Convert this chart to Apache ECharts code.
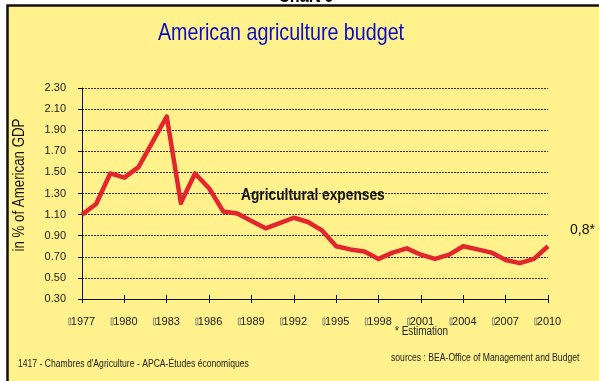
<!DOCTYPE html>
<html>
<head>
<meta charset="utf-8">
<script src="https://cdn.jsdelivr.net/npm/echarts@6/dist/echarts.min.js"></script>
<style>
  html, body { margin: 0; padding: 0; background: #ffffff; }
  #chart { width: 599px; height: 381px; }
</style>
</head>
<body>
<div id="chart"></div>
<script>
// Federal farm spending as a share of US GDP, 1977-2010 (2010 estimated)
const years = [
  '1977','1978','1979','1980','1981','1982','1983','1984','1985','1986',
  '1987','1988','1989','1990','1991','1992','1993','1994','1995','1996',
  '1997','1998','1999','2000','2001','2002','2003','2004','2005','2006',
  '2007','2008','2009','2010'
];
const expenses = [
  1.10, 1.20, 1.49, 1.45, 1.55, 1.79, 2.03, 1.21, 1.49, 1.35,
  1.13, 1.11, 1.04, 0.97, 1.02, 1.07, 1.03, 0.95, 0.80, 0.77,
  0.75, 0.68, 0.74, 0.78, 0.72, 0.68, 0.72, 0.80, 0.77, 0.74,
  0.67, 0.64, 0.68, 0.80
];
const yTicks = { min: 0.3, max: 2.3, step: 0.2 };
const lastLabel = '0,8*';

const sans = '"Liberation Sans", Arial, sans-serif';
// condensed look: Liberation Sans squeezed horizontally
const NARROW = 0.82;

function txt(x, y, text, font, fill, align, scale) {
  return {
    type: 'text', x: x, y: y, scaleX: scale || NARROW,
    style: { text: text, font: font, fill: fill, align: align || 'left', verticalAlign: 'middle' }
  };
}

const chart = echarts.init(document.getElementById('chart'), null, { renderer: 'canvas' });

chart.setOption({
  backgroundColor: '#ffffff',
  animation: false,
  graphic: [
    // framed yellow panel
    { type: 'rect', z: -10, shape: { x: 7.5, y: 5.5, width: 620, height: 400 },
      style: { fill: '#fff28c', stroke: '#111', lineWidth: 2.5 } },
    // page heading sitting just above the frame
    { type: 'text', x: 306, y: 6.5, scaleX: 0.85, z: -20,
      style: { text: 'Chart 9', font: 'bold 19px ' + sans, fill: '#000',
               align: 'center', verticalAlign: 'bottom' } },
    txt(281, 33, 'American agriculture budget', '24px ' + sans, '#0b0bc8', 'center'),
    { type: 'text', x: 20, y: 185, rotation: Math.PI / 2, scaleX: 0.83,
      style: { text: 'in % of American GDP', font: '16px ' + sans,
               fill: '#111', align: 'center', verticalAlign: 'middle' } },
    txt(241, 196, 'Agricultural expenses', 'bold 16px ' + sans, '#111', 'left', 0.86),
    txt(395, 332, '* Estimation', '12px ' + sans, '#222', 'left', 0.83),
    txt(18, 364, "1417 - Chambres d'Agriculture - APCA-Études économiques", '10.5px ' + sans,
        '#222', 'left'),
    txt(391, 358, 'sources : BEA-Office of Management and Budget', '10.5px ' + sans,
        '#222', 'left')
  ],
  grid: { left: 82, right: 51, top: 88, bottom: 82, containLabel: false },
  xAxis: [
    {
      type: 'category', data: years, boundaryGap: false, position: 'bottom',
      axisLine: { lineStyle: { color: '#111', width: 1 } },
      axisTick: { show: true, interval: 2, length: 4, lineStyle: { color: '#111' } },
      axisLabel: {
        interval: 2, margin: 17, color: '#222',
        fontFamily: sans, fontSize: 11,
        formatter: v => '{b|\u00a0}' + v,
        rich: {
          b: { width: 2, height: 7, borderColor: '#777', borderWidth: 0.8, padding: 0, fontSize: 6 }
        }
      },
      splitLine: { show: false }
    },
    {
      type: 'category', data: years, boundaryGap: false, position: 'bottom',
      axisLine: { show: false },
      axisTick: { show: true, inside: true, interval: 2, length: 4, lineStyle: { color: '#111' } },
      axisLabel: { show: false },
      splitLine: { show: false }
    }
  ],
  yAxis: {
    type: 'value', min: yTicks.min, max: yTicks.max, interval: yTicks.step,
    axisLine: { show: true, lineStyle: { color: '#111', width: 1 } },
    axisTick: { show: true, length: 4, lineStyle: { color: '#111' } },
    axisLabel: { margin: 16, color: '#222', fontFamily: sans, fontSize: 11,
                 formatter: v => v.toFixed(2) },
    splitLine: { show: true, lineStyle: { color: '#333', width: 1, type: [2, 1] } }
  },
  series: [{
    type: 'line', data: expenses, xAxisIndex: 0,
    symbol: 'none', smooth: false,
    lineStyle: { color: '#e3262e', width: 4.5, join: 'round' },
    endLabel: {
      show: true, formatter: lastLabel, distance: 22, offset: [0, -16],
      color: '#111', fontFamily: sans, fontSize: 14
    }
  }]
});
</script>
</body>
</html>
